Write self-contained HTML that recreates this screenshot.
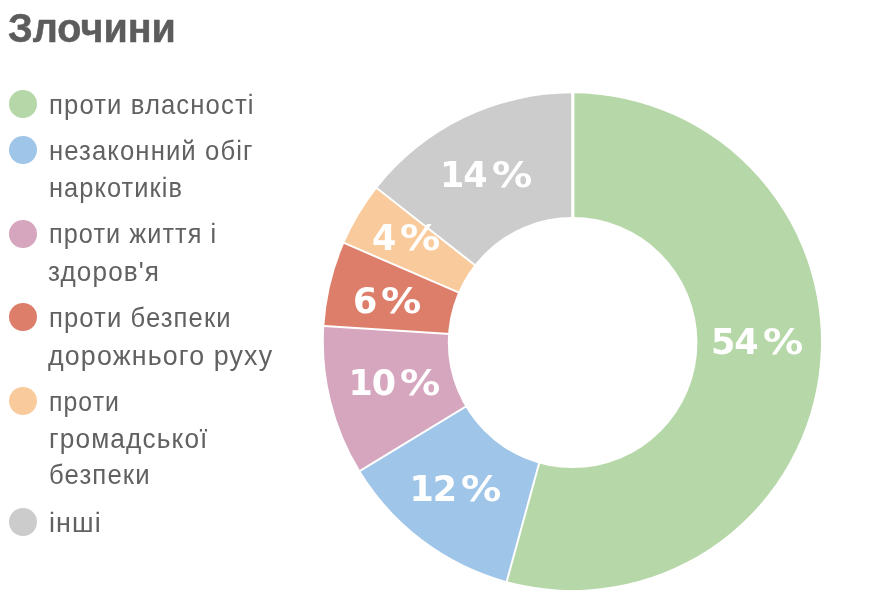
<!DOCTYPE html>
<html lang="uk"><head><meta charset="utf-8"><title>Злочини</title>
<style>
html,body{margin:0;padding:0;background:#fff;}
body{width:878px;height:600px;position:relative;overflow:hidden;font-family:"Liberation Sans",sans-serif;}
h1{position:absolute;left:8px;top:4.5px;margin:0;font-size:39.5px;line-height:46px;font-weight:bold;color:#5c5c5c;-webkit-text-stroke:0.5px #5c5c5c;white-space:nowrap;transform:scaleY(1.05);transform-origin:0 37px;}
.dot{position:absolute;left:9px;width:28px;height:28px;border-radius:50%;}
.lt{position:absolute;transform-origin:0 50%;font-size:28px;line-height:40px;color:#616161;letter-spacing:1.2px;white-space:nowrap;}
svg{position:absolute;left:0;top:0;}
.pl{position:absolute;font-family:"DejaVu Sans",sans-serif;font-weight:bold;font-size:35px;line-height:35px;color:#fff;letter-spacing:-1px;white-space:nowrap;}
.pl span{display:inline-block;transform:scaleX(1.15);transform-origin:0 50%;margin-left:5px;letter-spacing:0;}
#w{position:absolute;left:0;top:0;width:878px;height:600px;filter:blur(0.7px);}
</style></head><body><div id="w">
<h1>Злочини</h1>
<div class="dot" style="top:90.3px;background:#b6d7a8"></div>
<div class="lt" style="left:49.42px;top:85.24px;transform:scaleX(0.9171)">проти власності</div>
<div class="dot" style="top:136.3px;background:#9fc5e8"></div>
<div class="lt" style="left:49.45px;top:130.94px;transform:scaleX(0.9171)">незаконний обіг</div>
<div class="lt" style="left:49.45px;top:168.44px;transform:scaleX(0.9063)">наркотиків</div>
<div class="dot" style="top:219.8px;background:#d5a6bd"></div>
<div class="lt" style="left:49.44px;top:214.14px;transform:scaleX(0.901)">проти життя і</div>
<div class="lt" style="left:48.01px;top:252.14px;transform:scaleX(0.9321)">здоров'я</div>
<div class="dot" style="top:303.3px;background:#dd7e6b"></div>
<div class="lt" style="left:49.44px;top:297.54px;transform:scaleX(0.9146)">проти безпеки</div>
<div class="lt" style="left:48.0px;top:335.54px;transform:scaleX(0.957)">дорожнього руху</div>
<div class="dot" style="top:386.8px;background:#f9cb9c"></div>
<div class="lt" style="left:49.47px;top:382.24px;transform:scaleX(0.8859)">проти</div>
<div class="lt" style="left:49.44px;top:418.54px;transform:scaleX(0.9371)">громадської</div>
<div class="lt" style="left:49.43px;top:455.44px;transform:scaleX(0.9198)">безпеки</div>
<div class="dot" style="top:507.7px;background:#cccccc"></div>
<div class="lt" style="left:48.65px;top:502.94px;transform:scaleX(0.9598)">інші</div>

<svg width="878" height="600" viewBox="0 0 878 600">
<path d="M572.4,341.65L572.40,93.30A248.6,248.35 0 1 1 506.80,581.20Z" fill="#b6d7a8"/>
<path d="M572.4,341.65L506.80,581.20A248.6,248.35 0 0 1 360.09,470.86Z" fill="#9fc5e8"/>
<path d="M572.4,341.65L360.09,470.86A248.6,248.35 0 0 1 324.29,326.06Z" fill="#d5a6bd"/>
<path d="M572.4,341.65L324.29,326.06A248.6,248.35 0 0 1 344.25,243.02Z" fill="#dd7e6b"/>
<path d="M572.4,341.65L344.25,243.02A248.6,248.35 0 0 1 376.90,188.24Z" fill="#f9cb9c"/>
<path d="M572.4,341.65L376.90,188.24A248.6,248.35 0 0 1 572.40,93.30Z" fill="#cccccc"/>
<g stroke="#fff" stroke-width="2"><line x1="572.4" y1="341.65" x2="572.40" y2="89.30"/><line x1="572.4" y1="341.65" x2="505.75" y2="585.06"/><line x1="572.4" y1="341.65" x2="356.68" y2="472.94"/><line x1="572.4" y1="341.65" x2="320.30" y2="325.80"/><line x1="572.4" y1="341.65" x2="340.58" y2="241.43"/><line x1="572.4" y1="341.65" x2="373.76" y2="185.77"/><line x1="572.9" y1="341.65" x2="572.9" y2="80" stroke-width="3"/></g>
<ellipse cx="572.6" cy="342.5" rx="124.8" ry="125.6" fill="#fff"/>
</svg>
<div class="pl" style="left:711px;top:324.8px">54<span>%</span></div>
<div class="pl" style="left:409.5px;top:472.2px">12<span>%</span></div>
<div class="pl" style="left:348.5px;top:366.2px">10<span>%</span></div>
<div class="pl" style="left:353px;top:284.2px">6<span>%</span></div>
<div class="pl" style="left:372px;top:220.9px">4<span>%</span></div>
<div class="pl" style="left:440px;top:157.9px">14<span>%</span></div>
</div></body></html>
